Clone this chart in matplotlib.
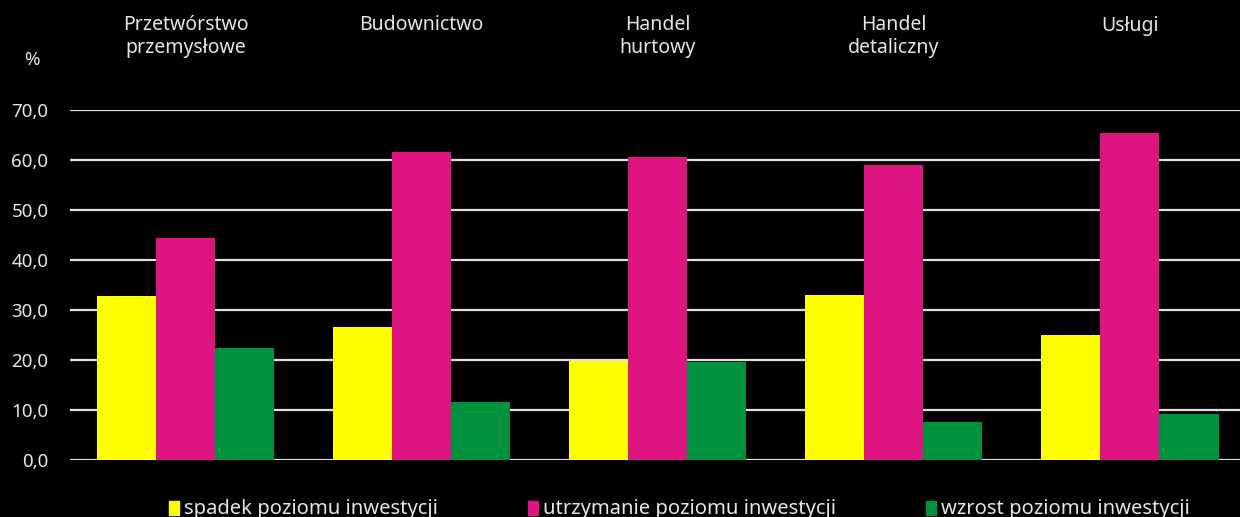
import matplotlib.pyplot as plt
from matplotlib.patches import Rectangle
import numpy as np

categories = ["Przetwórstwo\nprzemysłowe", "Budownictwo", "Handel\nhurtowy",
              "Handel\ndetaliczny", "Usługi"]
series_names = ["spadek poziomu inwestycji", "utrzymanie poziomu inwestycji",
                "wzrost poziomu inwestycji"]
spadek = [32.8, 26.6, 19.8, 33.1, 25.1]
utrzymanie = [44.4, 61.6, 60.6, 59.0, 65.4]
wzrost = [22.4, 11.6, 19.6, 7.7, 9.2]
yticks = [0, 10, 20, 30, 40, 50, 60, 70]

colors = ["#FFFF00", "#DE1480", "#00923F"]
txt = "#e6e6e6"

plt.rcParams['font.family'] = ['Noto Sans', 'DejaVu Sans']

W, H = 1240, 517
fig = plt.figure(figsize=(12.4, 5.17), dpi=100, facecolor="black")
ax = fig.add_axes([70 / W, 57 / H, 1170 / W, 350 / H])
ax.set_facecolor("black")

x = np.arange(len(categories))
w = 0.25
for i, vals in enumerate([spadek, utrzymanie, wzrost]):
    ax.bar(x + (i - 1) * w, vals, width=w, color=colors[i], zorder=3)

ax.set_xlim(-0.49, 4.466)
ax.set_ylim(0, 70)
ax.set_yticks(yticks)
ax.set_yticklabels([f"{v:.1f}".replace(".", ",") for v in yticks], color=txt, fontsize=13.5)
ax.tick_params(axis="y", length=0, pad=15.5)
ax.set_xticks([])
ax.grid(axis="y", color="#e0e0e0", linewidth=1.6, zorder=1)
for s in ax.spines.values():
    s.set_visible(False)

# category labels above plot
for xi, cat in zip(x, categories):
    ax.text(xi, 1.27, cat, transform=ax.get_xaxis_transform(), ha="center", va="top",
            color=txt, fontsize=14, linespacing=1.2)

fig.text(32 / W, 1 - 60 / H, "%", color=txt, fontsize=13.5, ha="center", va="center")

# legend along the bottom edge
leg_x = [169, 528, 926]
for lx, name, c in zip(leg_x, series_names, colors):
    fig.patches.append(Rectangle((lx / W, 2 / H), 10 / W, 14 / H, color=c,
                                 transform=fig.transFigure, figure=fig))
    fig.text((lx + 15) / W, -2 / H, name, color=txt, fontsize=14.5, ha="left", va="bottom")

fig.savefig("out.png", dpi=100, facecolor="black")
